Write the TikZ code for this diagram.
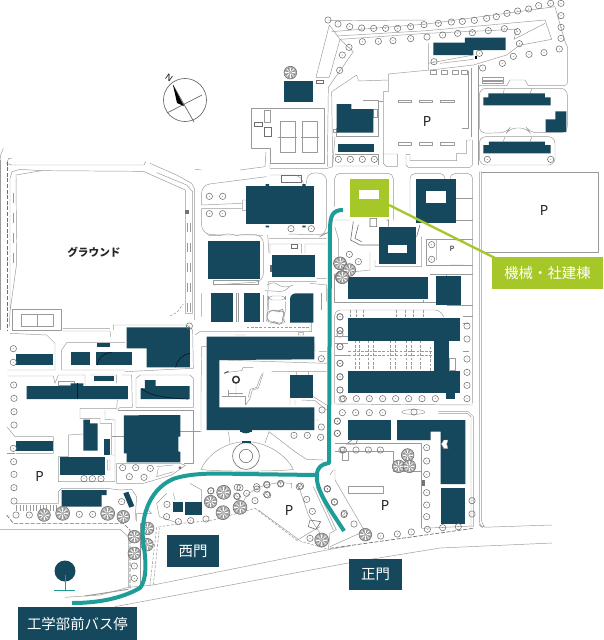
\documentclass[tikz,border=0pt]{standalone}
\usepackage{fontspec}
\setmainfont{Noto Sans}
\newfontfamily\cjk{Noto Sans CJK JP}
\definecolor{bldg}{HTML}{15485C}
\definecolor{route}{HTML}{1E9C98}
\definecolor{lime}{HTML}{A5C828}
\definecolor{thin}{HTML}{9A9A9A}
\definecolor{treeline}{HTML}{6E6E6E}
\tikzset{
  rd/.style={draw=thin,line width=0.35pt,line join=round},
  dk/.style={draw=treeline,line width=0.45pt},
  dsh/.style={draw=thin,line width=0.4pt,dash pattern=on 2pt off 1.2pt},
  dkdsh/.style={draw=treeline,line width=0.5pt,dash pattern=on 3pt off 1.2pt},
  bd/.style={fill=bldg,draw=none},
  tag/.style={fill=bldg,text=white,font=\cjk\fontsize{10.8pt}{12pt}\selectfont,inner sep=0pt,anchor=center},
  parkb/.style={font=\fontsize{10.5pt}{12pt}\selectfont\bfseries,text=black!85},
  zm/.style={scale=1/3}
}
\newcommand\trees[1]{\foreach \a/\b in {#1}{\draw[treeline,line width=0.4pt] (\a,\b) circle[radius=9.5];\fill[treeline] (\a,\b) circle[radius=1.3];}}
\newcommand\ttrees[2][1]{\foreach \a/\b in {#2}{\begin{scope}[shift={(\a,\b)},scale=#1]\fill[black!28] (0,0) circle[radius=19];
 \foreach \t in {0,45,...,315}{\draw[white,line width=0.3pt] (\t:5) -- (\t:15);\draw[black!55,line width=0.3pt] (\t+22:7) -- (\t+22:17);}
 \draw[black!60,line width=0.4pt] (0,0) circle[radius=19];\end{scope}}}
\begin{document}
\begin{tikzpicture}[x=0.75pt,y=-0.75pt]
\useasboundingbox[fill=white] (0,0) rectangle (604,640);

% ---------- north part (zoom origin 240,0)
\begin{scope}[shift={(240,0)},zm]
\draw[rd] (268,62)--(560,60) (268,75)--(228,232)--(268,232)--(300,118)--cycle;
\draw[rd] (275,95)--(560,72)--(945,20)--(975,125)--(982,140)--(982,250)--(975,257)--(865,257)--(855,240)--(810,240)--(800,257)--(715,257)--(715,195);
\draw[rd] (290,108)--(560,92)--(915,60)--(935,118)--(838,136)--(800,165)--(700,195)--(590,208)--(445,222)--(445,240)--(356,243)--(350,225)--(275,275)--(278,500)--(262,505)--(90,505);
\draw[rd] (300,118)--(560,100)--(830,88)--(822,118)--(915,70);
\draw[rd] (300,118)--(340,155)--(265,262)--(262,500);
\draw[rd] (565,130)--(565,210) (565,190)--(700,165) (600,190)--(700,178);
\draw[rd] (570,212) rectangle (590,222) (605,212) rectangle (622,222) (638,212) rectangle (655,222) (665,212) rectangle (682,222);
\draw[rd] (685,212)--(685,385)--(665,385) (695,205)--(695,410) (715,195)--(715,495);
\draw[rd] (430,275)--(445,275)--(445,240) (430,275)--(430,490)--(440,500)--(472,500)--(472,462)--(430,462);
\draw[rd] (695,420)--(680,420)--(680,460)--(650,460)--(650,482)--(510,482)--(510,463)--(498,463)--(498,495)--(505,502)--(690,502)--(697,495)--(697,420);
\foreach \xx in {475,538,602}{\draw[rd] (\xx,300) rectangle ++(40,8) (\xx,428) rectangle ++(40,8);}
% tennis
\draw[rd] (33,325)--(253,325)--(253,490)--(90,490)--(90,445)--(33,445)--cycle;
\draw[rd] (120,365) rectangle (167,458) (187,365) rectangle (232,458) (115,412)--(172,412) (182,412)--(237,412);
\draw[rd] (73,332) rectangle (92,368);
\draw[dk] (44,368) rectangle (68,380) (74,382) rectangle (95,410) (230,240) rectangle (250,251);
\draw[rd] (0,510)--(75,500)--(78,455) (90,490)--(90,505);
% east blocks
\draw[rd,rounded corners=5pt] (718,400)--(718,265)--(982,265)--(982,398)--(870,398)--(860,384)--(810,384)--(800,398)--cycle;
\draw[rd] (790,280)--(793,266) (870,280)--(876,266);
\draw[rd,rounded corners=5pt] (718,495)--(718,410)--(945,410)--(945,495)--cycle;
\draw[rd] (790,424)--(795,411) (870,424)--(876,411);
\draw[rd] (728,233) rectangle (790,241) (728,243) rectangle (790,250);
\draw[rd] (290,410)--(415,410) (290,410)--(290,385) (370,302)--(415,302)--(415,410) (415,305)--(430,305) (400,328) rectangle (413,352) (280,388) rectangle (292,398);
\draw[rd] (285,462)--(415,462)--(415,495) ;
\draw[rd,rounded corners=4pt] (278,500)--(285,410) (285,498)--(415,498);
% buildings and trees
\fill[bd] (131,242) rectangle (218,306);
\fill[bd] (290,312)--(334,312)--(334,327)--(400,327)--(400,398)--(290,398)--cycle;
\fill[bd] (293,432) rectangle (403,457);
\fill[bd] (580,128)--(675,128)--(675,113)--(797,113)--(797,150)--(700,150)--(700,165)--(580,165)--cycle;
\fill[bd] (745,280)--(915,280)--(915,292)--(932,292)--(932,316)--(730,316)--(730,292)--(745,292)--cycle;
\fill[bd] (946,334)--(979,334)--(979,396)--(917,396)--(917,358)--(946,358)--cycle;
\fill[bd] (747,425)--(915,425)--(915,435)--(932,435)--(932,460)--(730,460)--(730,435)--(747,435)--cycle;
\fill[black] (704,168) rectangle (712,176);
\trees{264/60,294/72,329/80,365/84,401/85,437/85,473/85,512/80,552/74,595/70,634/66,667/64,703/61,740/55,769/50,801/40,833/33,866/27,896/17,932/10,963/10,963/47,963/82,963/115,367/125,415/124,459/122,512/116,561/111,608/105,653/100,697/98,745/92,793/86,832/95,838/131,327/142,307/165,299/211,582/185,728/204,787/190,820/169,867/163,912/158,958/147,718/160,295/478,331/478,367/478,403/478,742/478,932/478}
\ttrees{151/218}
\end{scope}

% ---------- ground (zoom origin 0,130)
\begin{scope}[shift={(0,130)},zm]
\draw[rd] (10,55)--(2,75)--(0,90);
\draw[rd] (0,90)--(0,600);
\draw[rd] (20,100)--(26,85)--(35,85) (20,100)--(35,105)--(432,105)--(437,95);
\draw[rd] (450,100)--(530,135)--(575,160)--(583,175)--(583,570);
\draw[rd] (48,135)--(125,122)--(430,124)--(556,180)--(556,550)--(578,550)--(578,185)--(560,165)--(470,128);
\draw[rd] (36,125)--(60,118)--(125,122) (48,135)--(50,400)--(30,545)--(28,590) (36,125)--(30,145)--(30,545);
\draw[dkdsh] (21,95)--(21,600);
\draw[rd] (585,118)--(604,120);
\foreach \yy in {190,250,310,370}{\draw[rd] (40,\yy)--(40,\yy+30);}
\foreach \yy in {280,340,400,460,520}{\draw[rd] (563,\yy)--(563,\yy+25) (570,\yy)--(570,\yy+25);}
\fill[black!55] (556,240) rectangle (566,252);
\draw[dsh] (510,558)--(530,548)--(550,522);
\draw[rd] (38,537)--(185,537)--(185,600)--(38,600)--cycle (65,552) rectangle (160,590) (112,552)--(112,590);
\node[font=\cjk\fontsize{8pt}{10pt}\selectfont\bfseries,text=black!85] (ground) at (282,368) {グラウンド};
\end{scope}

% ---------- south-west (zoom origin 0,320)
\begin{scope}[shift={(0,320)},zm]
\draw[rd] (30,40)--(140,45)--(165,70)--(165,150)--(22,150);
\draw[rd] (185,150)--(185,90)--(200,68)--(375,68) (185,150)--(375,150);
\draw[rd] (340,30)--(340,15)--(560,15)--(578,30)--(580,145)--(375,155);
\draw[rd] (188,25)--(330,25) (188,33)--(330,33)--(332,50);
\draw[rd] (22,168)--(160,168)--(165,190)--(175,165)--(255,165)--(255,195) (270,165)--(350,165)--(350,190) (365,165)--(395,165)--(397,262)--(360,262)--(352,270);
\draw[rd] (408,262)--(408,175)--(420,165)--(570,165)--(580,175)--(580,262)--cycle;
\draw[rd] (175,185) rectangle (222,197);
\draw[rd] (240,295)--(240,265)--(350,265)--(352,240) (240,295)--(300,295)--(300,310)--(335,310)--(335,405)--(345,405)--(345,300)--(315,298)--(315,270);
\draw[rd] (355,270)--(580,270)--(580,430)--(552,430);
\draw[rd] (350,430)--(540,430)--(556,436)--(515,465)--(430,490)--(350,490)--cycle;
\draw[rd] (205,345)--(250,342) (205,345)--(205,410)--(175,410)--(175,485)--(345,485)--(345,405);
\draw[rd] (335,350)--(372,350) (540,335)--(600,335);
\draw[rd] (48,400)--(160,400)--(160,350)--(45,350)--(22,322);
\draw[rd] (22,400)--(45,400);
\draw[rd] (48,550)--(175,550)--(175,515)--(185,505)--(320,505)--(360,510)--(395,508)--(410,530)--(405,600);
\foreach \xx in {50,60,...,170}{\draw[rd] (\xx,555)--(\xx,573);}
\draw[rd] (322,420) rectangle (330,450) (470,440)--(520,435) (475,445)--(470,470)--(520,455);
\fill[bd] (380,22)--(570,22)--(570,142)--(440,142)--(440,85)--(380,85)--cycle;
\draw[black!60!bldg,line width=0.5pt] (527,142) .. controls (530,120) and (550,102) .. (570,100);
\fill[bd] (292,68) rectangle (331,82);
\fill[bd] (47,103) rectangle (158,135);
\fill[bd] (212,95) rectangle (269,136);
\fill[bd] (289,95) rectangle (395,136);
\draw[black!60!bldg,line width=0.5pt] (292,136) .. controls (292,115) and (310,100) .. (335,97);
\fill[bd] (283,169) rectangle (343,183);
\fill[bd] (80,198)--(212,198)--(212,190)--(250,190)--(250,198)--(384,198)--(384,237)--(80,237)--cycle;
\draw[black!60!bldg,line width=0.5pt] (233,190)--(233,237);
\fill[bd] (435,180)--(467,180)--(467,198)--(569,198)--(569,237)--(422,237)--(422,205)--(435,205)--cycle;
\draw[black!60!bldg,line width=0.5pt] (425,205) .. controls (440,225) and (500,235) .. (565,237);
\fill[bd] (372,286)--(541,285)--(541,350)--(535,350)--(535,395)--(541,395)--(541,427)--(380,427)--(380,400)--(372,400)--cycle;
\fill[bd] (250,299)--(270,299)--(270,310)--(293,310)--(293,392)--(250,392)--cycle;
\fill[bd] (313,356) rectangle (331,404);
\fill[bd] (47,362) rectangle (158,393);
\fill[bd] (179,412) rectangle (314,466);
\fill[bd] (185,510)--(320,510)--(320,525)--(305,525)--(305,560)--(185,560)--cycle;
\fill[bd] (370,520)--(385,515)--(403,558)--(388,563)--cycle;
\trees{40/86,40/127,41/195,42/235,42/275,42/315,40/385,41/425,42/463,42/503,42/543,48/585,88/585,238/583,278/583,365/545,368/443,407/443,451/445,388/470,432/472,252/476,277/476,303/476,568/18}
\ttrees{132/585,370/590}
\ttrees[1.1]{188/580,323/580}
\fill[black!55] (540,443) circle[radius=5];
\node[parkb] (pw) at (119,468) {P};
\end{scope}

% ---------- centre-north (zoom origin 195,170)
\begin{scope}[shift={(195,170)},zm]
\draw[rd,rounded corners=6pt] (20,105)--(20,45)--(215,20) (225,15)--(320,15)--(325,40) (335,40)--(335,8)--(395,10)--(395,190)--(385,195)--(280,192) (20,115)--(20,190)--(60,195)--(205,195)--(205,335)--(55,345);
\draw[dk] (260,16) rectangle (320,36) (290,222) rectangle (306,235);
\draw[rd] (20,115)--(140,115) (20,105)--(140,100) (143,90) rectangle (153,122);
\draw[rd] (40,197)--(75,197) .. controls (90,190) and (110,190) .. (125,197) .. controls (140,192) and (170,192) .. (203,197);
\draw[rd] (218,195)--(222,250) (222,205)--(395,205) (225,250)--(225,222)--(320,222)--(320,250) (330,250)--(330,222)--(395,222);
\draw[rd] (220,335)--(365,335) (365,325)--(395,325) (220,335)--(215,455) (20,370)--(20,440) (345,340)--(395,345)--(395,395);
\draw[rd] (205,375)--(205,455) (125,370)--(125,455) (130,370)--(130,455);
\draw[rd,rounded corners=3pt] (215,345)--(240,335) .. controls (255,350) and (280,355) .. (295,345) (210,362)--(268,365)--(285,348) (220,378) rectangle (272,390) (220,378)--(220,420) (272,395)--(272,425);
\draw[rd,rounded corners=4pt] (218,425)--(235,420)--(250,425)--(262,418)--(270,430)--(262,445)--(270,458)--(250,462)--(240,456)--(222,460)--(215,442)--cycle;
\draw[dsh] (155,473)--(345,473);
\draw[rd] (380,370)--(380,420);
\draw[rd] (0,495)--(15,485)--(350,485) (345,450) rectangle (350,485);
\draw[rd] (55,330)--(190,330)--(190,342)--(55,342)--cycle;
\fill[bd] (153,48) rectangle (358,163);
\fill[bd] (38,212) rectangle (194,326);
\fill[bd] (232,255) rectangle (361,322);
\fill[bd] (48,370) rectangle (115,455);
\fill[bd] (146,370) rectangle (196,455);
\fill[bd] (285,388) .. controls (285,377) and (293,370) .. (303,370) -- (355,370)--(355,458)--(285,458)--cycle;
\fill[bd] (212,42) rectangle (222,48) (322,42) rectangle (332,48) (212,167) rectangle (222,172) (322,167) rectangle (332,172);
\fill[black!60] (225,285) rectangle (232,305);
\trees{43/79,83/79,43/131,83/131,288/176,349/176,435/440,435/482}
\ttrees{435/280,440/321}
\end{scope}

% ---------- centre-south (zoom origin 195,330)
\begin{scope}[shift={(195,330)},zm]
\draw[rd] (20,50)--(35,50) (20,50)--(18,190) (18,190)--(18,300) (0,305)--(20,305) (360,40)--(360,65) (360,270)--(372,270) (372,65)--(395,65);
\draw[rd] (75,90)--(395,100) (230,125)--(395,125) (120,15)--(152,15) (310,8) rectangle (326,15);
\draw[rd] (100,305)--(105,340) (210,340)--(222,305)--(300,365)--(335,388)--(385,390);
\draw[rd] (18,418) .. controls (40,370) and (95,335) .. (153,335) .. controls (210,335) and (270,370) .. (295,418) .. controls (260,425) and (50,425) .. (18,418) --cycle;
\draw[dk] (153,378) circle[radius=40] (153,378) circle[radius=20];
\fill[bd] (142,333) rectangle (168,339);
\draw[rd] (205,128)--(190,175)--(172,180)--(165,205)--(152,225);
\draw[rd] (200,132)--(185,172)--(166,178)--(160,202);
\draw[rd] (80,200)--(150,200)--(150,225) (100,190)--(145,190) (100,180)--(100,198);
\draw[black!80,line width=1.1pt] (123,149) circle[radius=10];
\draw[rd] (90,128)--(140,122)--(145,112)--(175,112) (123,160)--(123,198);
\draw[black!70,line width=0.7pt] (88,130)--(100,124);
\draw[rd] (285,205)--(285,225) (300,210)--(300,225) (320,210)--(360,212)--(395,240) (355,200)--(395,225) (305,125)--(305,135) (340,125)--(340,135);
\fill[bd] (35,20)--(358,20)--(358,88)--(73,90)--(73,232)--(358,232)--(358,300)--(35,300)--cycle;
\fill[bd] (285,135) rectangle (353,203);
\fill[bd] (135,300) rectangle (170,306);
\fill[bd] (138,304) .. controls (140,312) and (165,312) .. (167,304) -- cycle;
\trees{379/86,381/240,379/291,377/322,297/316,337/316,427/273,427/310,441/360,435/12,435/50,435/100,435/140,435/180,441/207,397/477,47/483,135/473,155/490,186/477,215/463,257/460,313/470,215/493,125/498}
\ttrees{87/487}
\end{scope}

% ---------- east (zoom origin 330,170)
\begin{scope}[shift={(330,170)},zm]
\draw[rd,rounded corners=4pt] (14,110)--(14,10)--(190,10)--(190,150) (240,140)--(240,10)--(345,10)--(345,78)--(378,78) (360,78)--(360,10)--(428,10)--(428,700);
\draw[rd] (378,85)--(428,85) (378,150)--(428,150) (428,208)--(290,208)--(290,285)--(345,285) (345,285)--(428,285);
\draw[rd] (320,208)--(320,270) (360,208)--(400,212) (360,285)--(400,285);
\draw[dk] (170,150)--(176,150)--(176,170) (120,145) rectangle (140,170) (70,155)--(62,210)--(90,225)--(147,225) (85,165)--(75,205)--(95,215) (270,165)--(260,200);
\draw[rd] (14,150)--(60,150) (14,170)--(25,205)--(25,270)--(14,270) (120,245)--(120,300)--(14,312) (135,270)--(135,290)--(275,290)--(275,200);
\draw[rd] (14,312)--(14,398)--(348,398)--(348,312) (428,312)--(300,312) (350,405)--(428,405);
\draw[rd,rounded corners=4pt] (14,700)--(14,420)--(330,420)--(342,442);
\draw[rd] (14,500)--(55,500) (14,520)--(55,520) (14,555)--(55,555) (280,390)--(280,398);
\draw[rd] (358,565) rectangle (375,600) (400,440)--(428,440) (400,460)--(418,460) (400,545)--(418,545);
\draw[rd] (14,702)--(428,705);
\draw[rd,rounded corners=3pt] (448,5)--(448,1065)--(456,1072)--(666,1065) (454,5)--(454,1060)--(460,1066);
\draw[rd] (454,8)--(804,8)--(804,248)--(454,248);
\foreach \xx in {60,80,100,200,225,250,280}{\draw[dsh] (\xx,420)--(\xx,445);}
\foreach \xx in {75,88,115,130,182,195,230,245}{\draw[dsh] (\xx,512)--(\xx,604);}
\draw[dsh] (55,545)--(312,545) (55,555)--(312,555) (270,512)--(270,604) (300,530)--(300,604);
\fill[bd] (258,26) rectangle (378,160);
\fill[white] (287,62) rectangle (349,98);
\fill[bd] (147,170) rectangle (258,282);
\fill[white] (174,226) rectangle (232,250);
\fill[bd] (55,322) rectangle (294,387);
\fill[bd] (319,318) rectangle (392,405);
\fill[bd] (55,445) rectangle (391,512);
\fill[bd] (312,512) rectangle (358,604);
\fill[bd] (55,604) rectangle (391,670);
\fill[bd] (347,670) rectangle (375,686);
\trees{30/441,30/481,30/530,30/580,30/621,30/660,40/686,79/686,118/686,158/686,197/686,236/686,276/686,316/686,411/686,411/468,411/507,411/567,411/607,411/646,58/253,85/275,305/224,305/268}
\ttrees{30/280,58/300,37/322}
\end{scope}

% ---------- south-east (zoom origin 320,400)
\begin{scope}[shift={(320,400)},zm]
\draw[rd] (245,37) .. controls (250,25) and (310,25) .. (315,37) .. controls (310,45) and (250,45) .. (245,37) (355,35)--(445,35)--(460,50)--(460,380) (355,40)--(442,40)--(453,50)--(453,380);
\draw[dk] (95,120)--(80,132)--(108,132)--(112,120);
\draw[rd] (45,130)--(305,130)--(305,385) (45,155)--(220,155)--(220,215)--(305,215);
\draw[rd] (66,155) rectangle (85,182);
\draw[rd] (85,260) rectangle (190,280);
\draw[rd] (45,240)--(135,395) (40,210)--(30,225) (45,205)--(45,240);
\draw[rd] (305,385)--(460,378);
\draw[dkdsh] (30,445)--(460,385);
\draw[rd] (30,440)--(130,395) (130,395)--(150,410);
\fill[black!55] (305,240) rectangle (315,258);
\draw[rd] (370,95) rectangle (378,118);
\fill[bd] (84,60) rectangle (212,120);
\fill[bd] (231,60)--(436,60)--(436,252)--(362,252)--(362,95)--(332,95)--(332,120)--(231,120)--cycle;
\fill[bd] (362,264) rectangle (436,372);
\draw[rd,fill=white] (372,120)--(364,132)--(372,146)--(384,146)--(380,132)--(384,120)--cycle;
\trees{67/38,107/38,148/38,188/38,282/36,52/64,52/100,70/150,108/150,145/150,181/150,320/143,320/183,320/223,320/278,320/315,320/350,322/388,368/383,415/380,456/302,456/342,22/266,44/307,72/344,102/372,182/408,232/402,274/396}
\ttrees{263/165,236/199,268/199,136/404}
\end{scope}

% ---------- south (zoom origin 0,470)
\begin{scope}[shift={(0,470)},zm]
\draw[dkdsh] (20,135)--(40,160)--(370,160)--(390,180)--(390,355);
\draw[rd] (0,178)--(360,178)--(385,200)--(385,352);
\draw[rd] (195,382)--(300,375)--(385,352)--(460,345)--(990,238)--(1050,228);
\draw[rd,line width=0.7pt] (255,378)--(385,358);
\draw[rd] (345,410)--(1050,278)--(1320,234)--(1656,219);
\draw[rd] (410,155)--(410,130)--(455,130)--(440,115);
\draw[rd] (420,160)--(420,350);
\draw[dsh] (450,345)--(470,172)--(530,162)--(640,150)--(765,115)--(890,210)--(985,238);
\draw[dsh] (460,345)--(478,175);
\draw[rd] (775,120)--(895,208);
\draw[rd] (500,70)--(470,100)--(478,140)--(530,158) (570,40)--(605,60)--(605,100) (520,70)--(525,90);
\draw[rd] (895,45)--(925,135)--(960,190) (840,38)--(875,40)--(875,55);
\draw[rd] (940,50)--(1000,180) (948,50)--(1008,178);
\draw[rd] (890,212)--(925,190)--(960,170) (985,238)--(990,190)--(1010,178);
\draw[dk] (930,150)--(962,155)--(948,178)--(925,170)--cycle;
\draw[rd] (730,95) .. controls (740,70) and (770,45) .. (840,38);
\fill[bd] (520,95) rectangle (548,127);
\fill[bd] (555,95) rectangle (606,136);
\trees{633/62,712/52,770/50,801/45,842/42,712/80,803/75,765/92,501/103,500/140,535/155,572/152,618/147,902/48,920/88,937/124,1003/95,982/57,1033/130,930/205,403/288,403/325}
\ttrees{632/95,403/200,403/250,443/175,441/224}
\ttrees[1.1]{671/67,669/128,720/112,965/210}
\end{scope}

% ---------- lime building and leader
\fill[lime] (350,179) rectangle (389,217);
\fill[white] (359,190) rectangle (379,199);
\coordinate (leadA) at (389,205);
\coordinate (leadB) at (495,258);
\draw[lime,line width=1.7pt] (leadA) -- (leadB);

% ---------- route
\draw[route,line width=3pt,line join=round]
  (72,603) .. controls (100,603) and (122,598) .. (140,588)
  .. controls (147,580) and (146,560) .. (144,548)
  .. controls (139,520) and (148,490) .. (173,479)
  .. controls (190,473) and (215,473) .. (240,474)
  -- (317,475);
\draw[route,line width=3pt,line join=round]
  (344,531) .. controls (332,512) and (315,490) .. (317,475)
  .. controls (317,467) and (322,464) .. (329,463)
  -- (330,230) .. controls (330,215) and (333,210) .. (343,210);

% ---------- compass
\draw[black!60,line width=0.5pt] (185,100) circle[radius=21.5];
\draw[black!60,line width=0.5pt] (167,113)--(202,95) (173,85)--(194,122);
\fill[black] (173,85)--(177,103)--(184,106)--cycle;
\node[font=\fontsize{6.5pt}{8pt}\selectfont\bfseries,rotate=-35] (north) at (169,78) {N};

% ---------- parking labels
\node[parkb] (p1) at (427,121) {P};
\node[parkb] (p2) at (544,210) {P};
\node[font=\fontsize{5.5pt}{7pt}\selectfont\bfseries] (p3) at (452,249) {P};
\node[parkb] (p5) at (289,510) {P};
\node[parkb] (p6) at (385,505) {P};

% ---------- pin
\fill[bldg] (65,571) circle[radius=10.5];
\draw[route,line width=0.5pt] (65,575)--(65,590) (54,590)--(75,590);

% ---------- tags
\node[tag,fill=lime,minimum width=83.25pt,minimum height=24pt] (kikai) at (547.5,273) {機械・社建棟};
\node[tag,minimum width=39pt,minimum height=24pt] (nishi) at (193,551) {西門};
\node[tag,minimum width=39.75pt,minimum height=23.25pt] (sei) at (375.5,574.5) {正門};
\node[tag,minimum width=89.25pt,minimum height=24.75pt] (bus) at (77.5,623.5) {工学部前バス停};
\end{tikzpicture}
\end{document}
